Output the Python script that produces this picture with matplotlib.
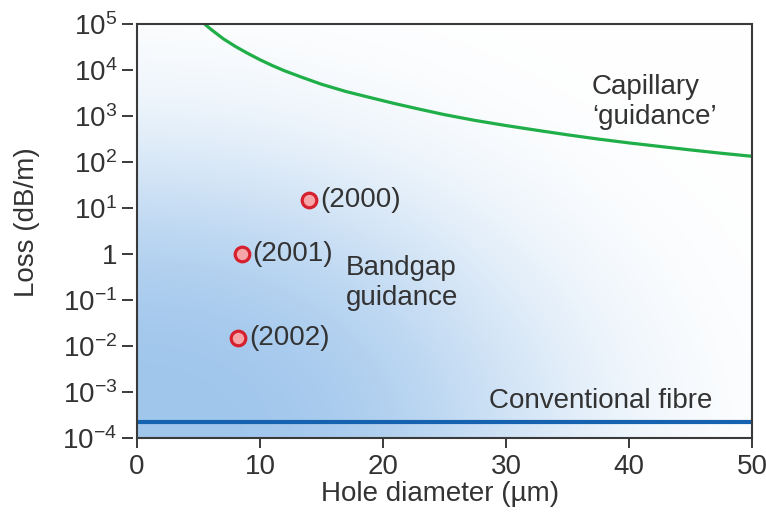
import numpy as np
import matplotlib

matplotlib.use("Agg")
import matplotlib.pyplot as plt

plt.rcParams["font.family"] = ["Liberation Sans", "DejaVu Sans"]
plt.rcParams["mathtext.fontset"] = "custom"
plt.rcParams["mathtext.rm"] = "Liberation Sans"
plt.rcParams["mathtext.it"] = "Liberation Sans:italic"
plt.rcParams["mathtext.bf"] = "Liberation Sans:bold"

INK = "#333333"

# capillary guidance loss curve (hole diameter in um, loss in dB/m)
capillary_d = [5.5, 6, 7, 8, 9, 10, 11, 12, 13.5, 15, 17, 19, 21, 23, 25,
               27.5, 30, 32.5, 35, 37.5, 40, 42.5, 45, 47.5, 50]
capillary_loss = [1.0e5, 7.7e4, 4.8e4, 3.25e4, 2.3e4, 1.67e4, 1.25e4, 9.6e3,
                  6.8e3, 4.9e3, 3.4e3, 2.5e3, 1.85e3, 1.4e3, 1.07e3, 800, 620,
                  490, 390, 315, 260, 218, 183, 155, 133]

# measured bandgap fibres
fibre_years = ["(2000)", "(2001)", "(2002)"]
fibre_d = [14.0, 8.5, 8.2]
fibre_loss = [15.0, 1.0, 0.015]

# conventional fibre loss level
conventional_loss = 2.2e-4

y_ticks = [1e-4, 1e-3, 1e-2, 1e-1, 1, 1e1, 1e2, 1e3, 1e4, 1e5]
y_labels = [r"$10^{-4}$", r"$10^{-3}$", r"$10^{-2}$", r"$10^{-1}$", "1",
            r"$10^{1}$", r"$10^{2}$", r"$10^{3}$", r"$10^{4}$", r"$10^{5}$"]
x_ticks = [0, 10, 20, 30, 40, 50]

fig = plt.figure(figsize=(7.66, 5.14), dpi=100)
ax = fig.add_axes([137 / 766, 1 - 438 / 514, 615 / 766, 414 / 514])
ax.set_yscale("log")
ax.set_xlim(0, 50)
ax.set_ylim(1e-4, 1e5)

# blue wash fading from the lower-left corner towards white
u = np.linspace(0, 1, 400)[None, :]
v = np.linspace(1, 0, 300)[:, None]
r = np.sqrt((u / 0.98) ** 2 + v ** 2)
strength = np.exp(-(r / 0.69) ** 3)
base = np.array([160, 198, 236]) / 255.0
img = 1 - strength[..., None] * (1 - base)
ax.imshow(img, extent=[0, 1, 0, 1], transform=ax.transAxes, aspect="auto",
          zorder=0, interpolation="bilinear")

ax.plot(capillary_d, capillary_loss, color="#1fae48", lw=2.3, zorder=3,
        solid_capstyle="butt")
ax.axhline(conventional_loss, color="#1562b0", lw=3.0, zorder=3)
ax.plot(fibre_d, fibre_loss, "o", ms=10.5, mfc="#f6a6a8", mec="#d6202e",
        mew=2.3, zorder=4, linestyle="none")

fs = 20
for d, loss, year in zip(fibre_d, fibre_loss, fibre_years):
    ax.annotate(year, (d, loss), xytext=(8, 0), textcoords="offset points",
                ha="left", va="center", fontsize=fs, color=INK, zorder=5)

ax.text(37.0, 10 ** 3.3, "Capillary\n\u2018guidance\u2019", fontsize=fs,
        color=INK, ha="left", va="center", linespacing=1.2)
ax.text(17.0, 10 ** -0.62, "Bandgap\nguidance", fontsize=fs, color=INK,
        ha="left", va="center", linespacing=1.2)
ax.text(28.6, 10 ** -3.2, "Conventional fibre", fontsize=fs, color=INK,
        ha="left", va="center")

for side in ["left", "right", "top", "bottom"]:
    ax.spines[side].set_color("#3a3a3a")
    ax.spines[side].set_linewidth(1.5)
    ax.spines[side].set_zorder(6)

ax.set_xticks(x_ticks)
ax.tick_params(axis="x", direction="out", length=7.2, width=1.4, pad=4,
               labelsize=fs, colors="#3a3a3a", labelcolor=INK)

# y ticks sit slightly detached from the frame
ax.tick_params(axis="y", which="both", left=False, labelleft=False)
ax.yaxis.set_minor_locator(matplotlib.ticker.NullLocator())
sec = ax.secondary_yaxis(-0.0065)
for side in sec.spines:
    sec.spines[side].set_visible(False)
sec.set_yticks(y_ticks, labels=y_labels)
sec.yaxis.set_minor_locator(matplotlib.ticker.NullLocator())
sec.tick_params(axis="y", direction="out", length=7.9, width=1.4, pad=3.6,
                labelsize=fs, colors="#3a3a3a", labelcolor=INK)

ax.set_xlabel("Hole diameter (\u00b5m)", fontsize=fs, color=INK)
ax.xaxis.set_label_coords(0.492, -0.104)
fig.text(27 / 766, 1 - 222 / 514, "Loss (dB/m)", fontsize=fs, color=INK,
         rotation=90, ha="center", va="center")

fig.savefig("out.png", dpi=100)
